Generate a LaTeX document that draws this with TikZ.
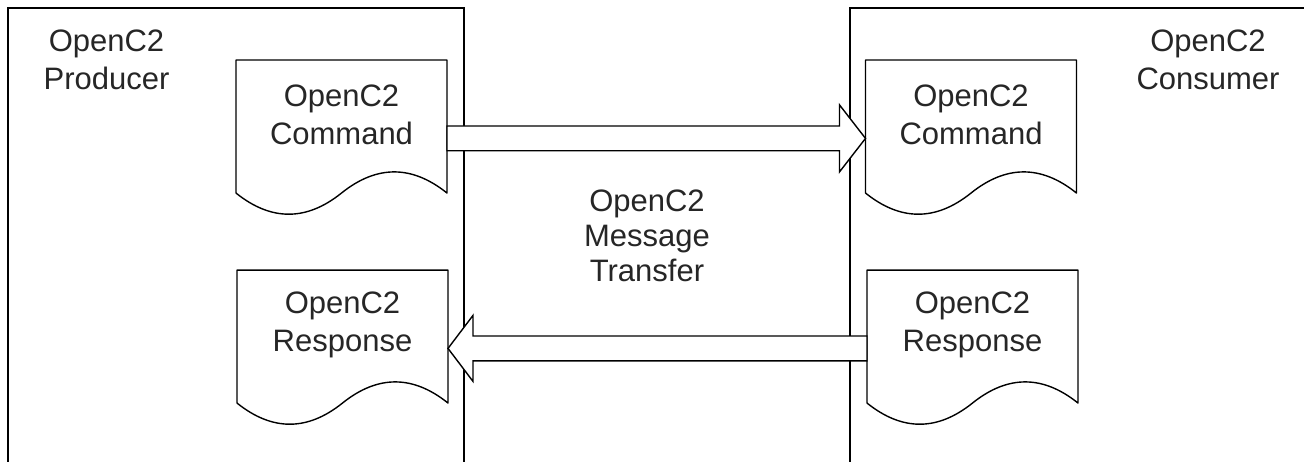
\documentclass[tikz,border=0pt]{standalone}
\usepackage{fontspec}
\setmainfont{Liberation Sans}
\usetikzlibrary{calc}

% outline of a document shape round a body node
\newcommand\docoutline[1]{%
  \draw[docline] (#1.north west) -- (#1.north east) -- ++(0,-66.5)
    .. controls +(-17.58,14.1) and +(17.58,14.1) .. ++(-52.75,0)
    .. controls +(-17.58,-14.1) and +(17.58,-14.1) .. ++(-52.75,0) -- cycle;}

\begin{document}
\begin{tikzpicture}[x=1pt, y=1pt,
  zone/.style={draw, line width=0.7pt, minimum height=236.5pt, inner sep=0pt, outer sep=0pt},
  lbl/.style={align=center, text=black!85, font=\fontsize{15.5}{19}\selectfont},
  doc/.style={lbl, minimum width=105.5pt, minimum height=54.75pt, inner sep=0pt, outer sep=0pt},
  docline/.style={line width=0.7pt, line join=round},
  flow/.style={draw, fill=white, line width=0.7pt, line join=miter}]
\fill[white] (0,0) rectangle (652,230.5);
\clip (0,0) rectangle (652,230.5);
% producer and consumer
\node[zone, minimum width=228pt] (producer) at (118,108.25) {};
\node[zone, minimum width=240pt] (consumer) at (545,108.25) {};
\node[lbl] (prodname) at (53.25,200.5) {OpenC2\\Producer};
\node[lbl] (consname) at (604,200.5) {OpenC2\\Consumer};
\node[lbl, font=\fontsize{15.5}{17.5}\selectfont] (transfer) at (323.5,112.6) {OpenC2\\Message\\Transfer};
% messages
\node[doc] (cmdP) at (170.75,173.1) {OpenC2\\Command};
\node[doc] (rspP) at (171.25,68.1) {OpenC2\\Response};
\node[doc] (cmdC) at (485.5,173.1) {OpenC2\\Command};
\node[doc] (rspC) at (486.25,68.1) {OpenC2\\Response};
\foreach \d in {cmdP,rspP,cmdC,rspC} {\docoutline{\d}}
% transfer arrows
\coordinate (a1) at ($(cmdP.east)+(0,-11.8)$);
\coordinate (b1) at ($(cmdC.west)+(0,-11.8)$);
\draw[flow] ($(a1)+(0,6.2)$) -- ($(b1)+(-13,6.2)$) -- ($(b1)+(-13,16.75)$) -- (b1)
  -- ($(b1)+(-13,-16.75)$) -- ($(b1)+(-13,-6.2)$) -- ($(a1)+(0,-6.2)$) -- cycle;
\coordinate (a2) at ($(rspC.west)+(0,-11.8)$);
\coordinate (b2) at ($(rspP.east)+(0,-11.8)$);
\draw[flow] ($(a2)+(0,6.2)$) -- ($(b2)+(12.5,6.2)$) -- ($(b2)+(12.5,16.5)$) -- (b2)
  -- ($(b2)+(12.5,-16.5)$) -- ($(b2)+(12.5,-6.2)$) -- ($(a2)+(0,-6.2)$) -- cycle;
\end{tikzpicture}
\end{document}
